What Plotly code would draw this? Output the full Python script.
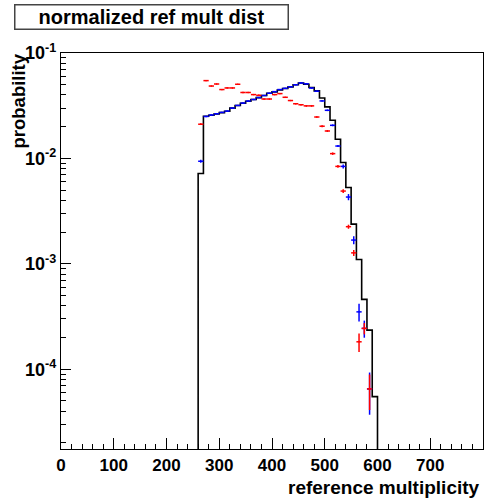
import math
import plotly.graph_objects as go

# ---------------- data ----------------
BIN_W = 10
bin_lo = [260, 270, 280, 290, 300, 310, 320, 330, 340, 350, 360, 370, 380, 390, 400, 410, 420,
          430, 440, 450, 460, 470, 480, 490, 500, 510, 520, 530, 540, 550, 560, 570, 580, 590]
hist_vals = [0.0072, 0.0251, 0.0257, 0.0264, 0.0272, 0.0280, 0.0300, 0.0318, 0.0334, 0.0348,
             0.0362, 0.0377, 0.0395, 0.0415, 0.0428, 0.0445, 0.0460, 0.0476, 0.0500, 0.0520,
             0.0505, 0.0470, 0.0437, 0.0374, 0.0308, 0.0230, 0.0152, 0.00915, 0.0053, 0.00238,
             0.0011, 0.00046, 0.000235, 0.000055]

pt_centers = [265, 275, 285, 295, 305, 315, 325, 335, 345, 355, 365, 375, 385, 395, 405, 415, 425,
              435, 445, 455, 465, 475, 485, 495, 505, 515, 525, 535, 545, 555, 565, 575, 585]
blue_vals = [0.0094, 0.0250, 0.0258, 0.0265, 0.0273, 0.0281, 0.0300, 0.0318, 0.0335, 0.0350,
             0.0362, 0.0378, 0.0395, 0.0415, 0.0430, 0.0450, 0.0462, 0.0478, 0.0500, 0.0520,
             0.0510, 0.0465, 0.0434, 0.0351, 0.0286, 0.0206, 0.0131, 0.0084, 0.0043, 0.00168,
             0.00035, 0.000244, 0.000065]
blue_err = [0.0003, 0.0004, 0.0004, 0.0004, 0.0004, 0.0004, 0.0004, 0.0004, 0.0005, 0.0005,
            0.0005, 0.0005, 0.0005, 0.0005, 0.0005, 0.0005, 0.0005, 0.0005, 0.0006, 0.0006,
            0.0006, 0.0006, 0.0006, 0.0005, 0.0005, 0.0004, 0.0003, 0.00037, 0.00029, 0.00015,
            0.000067, 0.000045, 0.000028]
red_vals = [0.0211, 0.0547, 0.0486, 0.0508, 0.0450, 0.0466, 0.0466, 0.0505, 0.0422, 0.0422,
            0.0403, 0.0397, 0.0366, 0.0366, 0.0403, 0.0412, 0.0380, 0.0354, 0.0330, 0.0323,
            0.0315, 0.0315, 0.0247, 0.0202, 0.0182, 0.0111, 0.0084, 0.0049, 0.00225, 0.00127,
            0.000182, 0.000244, 0.000065]
red_err = [0.0004, 0.0007, 0.0006, 0.0006, 0.0006, 0.0006, 0.0006, 0.0006, 0.0006, 0.0006,
           0.0006, 0.0006, 0.0005, 0.0005, 0.0006, 0.0006, 0.0005, 0.0005, 0.0005, 0.0005,
           0.0005, 0.0005, 0.0004, 0.0004, 0.0004, 0.0003, 0.00025, 0.00021, 0.0001, 0.000085,
           0.000036, 0.00003, 0.000024]

x_ticks = [0, 100, 200, 300, 400, 500, 600, 700]
y_ticks = [1e-4, 1e-3, 1e-2, 1e-1]
y_ticktext = ["10<sup>-4</sup>", "10<sup>-3</sup>", "10<sup>-2</sup>", "10<sup>-1</sup>"]

TITLE = "normalized ref mult dist"
XTITLE = "reference multiplicity"
YTITLE = "probability"

# ---------------- layout geometry ----------------
W, H = 484, 500
ML, MR, MT, MB = 61, 1, 53, 51
PW, PH = W - ML - MR, H - MT - MB

def px(x):
    return (x - ML) / PW

def py(y):
    return (H - MB - y) / PH

FONT = "Liberation Sans, Arial, Helvetica, sans-serif"
FLOOR = 1e-8

fig = go.Figure()

# histogram outline
step_x = [bin_lo[0]] + bin_lo + [bin_lo[-1] + BIN_W]
step_y = [FLOOR] + hist_vals + [FLOOR]
fig.add_trace(go.Scatter(x=step_x, y=step_y, mode="lines", line_shape="hv",
                         line=dict(color="black", width=1.6), hoverinfo="skip"))

for vals, errs, col in [(blue_vals, blue_err, "#0000ff"), (red_vals, red_err, "#ff0000")]:
    fig.add_trace(go.Scatter(
        x=pt_centers, y=vals, mode="markers",
        marker=dict(size=1, color=col),
        error_x=dict(type="constant", value=BIN_W / 2, width=0, thickness=1.5, color=col),
        error_y=dict(type="data", array=errs, width=0, thickness=1.5, color=col),
    ))

minor_x = [v for v in range(20, 800, 20) if v % 100 != 0]
minor_y = [k * 10 ** d for d in range(-5, -1) for k in range(2, 10) if k * 10 ** d >= 1.75e-5]

fig.update_layout(
    width=W, height=H,
    margin=dict(l=ML, r=MR, t=MT, b=MB, pad=0),
    paper_bgcolor="white", plot_bgcolor="white",
    showlegend=False,
    font=dict(family=FONT, color="black"),
    xaxis=dict(
        range=[0, 800], tickmode="array", tickvals=x_ticks,
        ticks="inside", ticklen=11, tickwidth=1, tickcolor="black",
        showline=True, linecolor="black", linewidth=1.2, mirror=True,
        showgrid=False, zeroline=False,
        tickfont=dict(size=17, family=FONT, weight="bold"),
        minor=dict(tickmode="array", tickvals=minor_x, ticks="inside", ticklen=5,
                   tickcolor="black", tickwidth=1, showgrid=False),
    ),
    yaxis=dict(
        type="log", range=[math.log10(1.75e-5), -1],
        tickmode="array", tickvals=y_ticks, ticktext=y_ticktext,
        ticks="inside", ticklen=10, tickwidth=1, tickcolor="black",
        showline=True, linecolor="black", linewidth=1.2, mirror=True,
        showgrid=False, zeroline=False,
        tickfont=dict(size=18, family=FONT, weight="bold"),
        minor=dict(tickmode="array", tickvals=minor_y, ticks="inside", ticklen=5,
                   tickcolor="black", tickwidth=1, showgrid=False),
    ),
    annotations=[
        dict(text=TITLE, xref="paper", yref="paper", x=px(151), y=py(17.5),
             xanchor="center", yanchor="middle", showarrow=False,
             width=272, height=23, borderpad=0, bordercolor="#444", borderwidth=1.5,
             bgcolor="white", font=dict(size=20, family=FONT, weight="bold", color="black")),
        dict(text=XTITLE, xref="paper", yref="paper", x=px(482), y=py(488),
             xanchor="right", yanchor="middle", showarrow=False,
             font=dict(size=19, family=FONT, weight="bold", color="black")),
        dict(text=YTITLE, xref="paper", yref="paper", x=px(18), y=py(52),
             xanchor="center", yanchor="top", showarrow=False, textangle=-90,
             font=dict(size=18.5, family=FONT, weight="bold", color="black")),
    ],
)

fig.write_html("out.html")
